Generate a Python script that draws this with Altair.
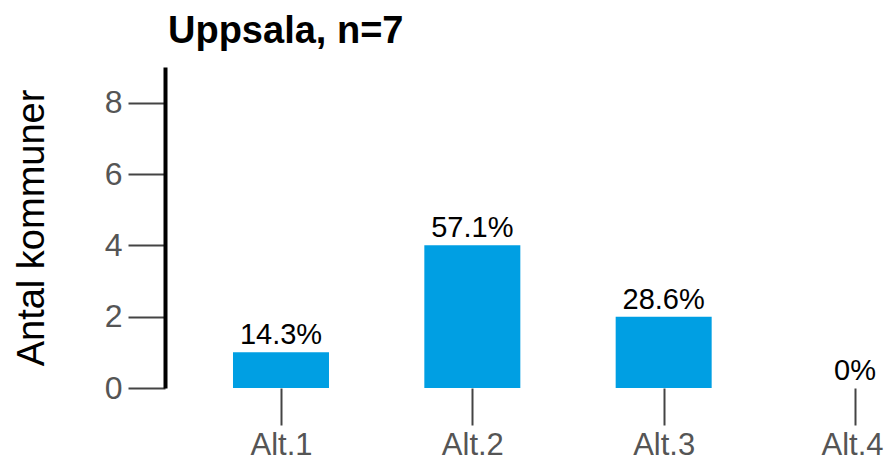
import altair as alt
import pandas as pd

categories = ["Alt.1", "Alt.2", "Alt.3", "Alt.4"]
counts = [1, 4, 2, 0]
pct_labels = ["14.3%", "57.1%", "28.6%", "0%"]
y_ticks = [0, 2, 4, 6, 8]

df = pd.DataFrame({"alt": categories, "count": counts, "pct": pct_labels})

FONT = "Liberation Sans"

x = alt.X(
    "alt:N", sort=categories, title=None,
    scale=alt.Scale(type="point", padding=0.3606, align=0.8406),
    axis=alt.Axis(domain=False, ticks=True, tickSize=37, tickWidth=2, tickColor="#444444",
                  labelAngle=0, labelFontSize=31, labelColor="#555555", labelPadding=5,
                  labelFont=FONT,
                  labelOffset={"condition": {"test": "datum.value === 'Alt.4'", "value": -3},
                               "value": 0}),
)
y = alt.Y(
    "count:Q", title="Antal kommuner",
    scale=alt.Scale(domain=[0, 9], nice=False),
    axis=alt.Axis(values=y_ticks, grid=False, domainColor="black", domainWidth=4,
                  tickSize=37, tickWidth=2, tickColor="#444444",
                  labelFontSize=32, labelColor="#555555", labelPadding=6, labelFont=FONT,
                  titleFontSize=38, titleFontWeight="normal", titleColor="black",
                  titleFont=FONT, titlePadding=53),
)

bars = alt.Chart(df).mark_bar(size=96, color="#009FE3").encode(x=x, y=y)
text = alt.Chart(df).mark_text(baseline="bottom", dy=-2, fontSize=29, font=FONT,
                               color="black").encode(x=x, y="count:Q", text="pct:N")

chart = (bars + text).properties(
    width=712, height=321,
    autosize=alt.AutoSizeParams(type="none"),
    padding={"left": 157, "top": 59, "right": 7, "bottom": 72},
    title=alt.TitleParams("Uppsala, n=7", anchor="start", frame="group", fontSize=38,
                          fontWeight="bold", font=FONT, color="black",
                          baseline="alphabetic", offset=24, dx=3, dy=38),
).configure_view(stroke=None)

chart.save("out.html", embed_options={"renderer": "svg", "actions": False})
